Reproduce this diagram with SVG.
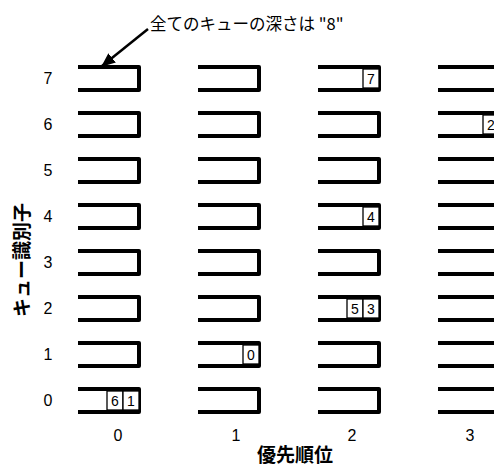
<svg xmlns="http://www.w3.org/2000/svg" width="494" height="466" viewBox="0 0 494 466">
<defs>
<style>
.q{fill:none;stroke:#000;stroke-width:4;stroke-linejoin:round}
.c{fill:#fff;stroke:#000;stroke-width:1.3}
.n{font-family:"Liberation Sans",Arial,sans-serif;font-size:14px;text-anchor:middle;fill:#000}
.lab{font-family:"Liberation Sans",Arial,sans-serif;font-size:16px;text-anchor:middle;fill:#000}
.t{font-family:"Noto Sans CJK JP","Noto Sans",sans-serif;font-weight:bold;font-size:19px;fill:#000;text-anchor:middle}
.note{font-family:"Noto Sans CJK JP","Noto Sans",sans-serif;font-size:16.5px;fill:#000}
</style>
<marker id="ah" markerWidth="14" markerHeight="12" refX="13" refY="6" orient="auto" markerUnits="userSpaceOnUse" viewBox="0 0 14 12">
<path d="M0,0 L14,6 L0,12 z" fill="#000"/>
</marker>
<path id="box" class="q" d="M0,0 H61 V23 H0"/>
</defs>
<g id="queues">
<g id="col0">
<use href="#box" x="78" y="67"/><use href="#box" x="78" y="113"/><use href="#box" x="78" y="159"/><use href="#box" x="78" y="205"/>
<use href="#box" x="78" y="251"/><use href="#box" x="78" y="297"/><use href="#box" x="78" y="343"/><use href="#box" x="78" y="389"/>
</g>
<g id="col1">
<use href="#box" x="198" y="67"/><use href="#box" x="198" y="113"/><use href="#box" x="198" y="159"/><use href="#box" x="198" y="205"/>
<use href="#box" x="198" y="251"/><use href="#box" x="198" y="297"/><use href="#box" x="198" y="343"/><use href="#box" x="198" y="389"/>
</g>
<g id="col2">
<use href="#box" x="318" y="67"/><use href="#box" x="318" y="113"/><use href="#box" x="318" y="159"/><use href="#box" x="318" y="205"/>
<use href="#box" x="318" y="251"/><use href="#box" x="318" y="297"/><use href="#box" x="318" y="343"/><use href="#box" x="318" y="389"/>
</g>
<g id="col3">
<use href="#box" x="438" y="67"/><use href="#box" x="438" y="113"/><use href="#box" x="438" y="159"/><use href="#box" x="438" y="205"/>
<use href="#box" x="438" y="251"/><use href="#box" x="438" y="297"/><use href="#box" x="438" y="343"/><use href="#box" x="438" y="389"/>
</g>
</g>
<g id="entries">
<g id="e-c2r7"><rect class="c" x="363" y="69" width="16" height="19"/><text class="n" x="371" y="84">7</text></g>
<g id="e-c3r6"><rect class="c" x="483" y="115" width="16" height="19"/><text class="n" x="491" y="130">2</text></g>
<g id="e-c2r4"><rect class="c" x="363" y="207" width="16" height="19"/><text class="n" x="371" y="222">4</text></g>
<g id="e-c2r2"><rect class="c" x="347" y="299" width="16" height="19"/><text class="n" x="355" y="314">5</text><rect class="c" x="363" y="299" width="16" height="19"/><text class="n" x="371" y="314">3</text></g>
<g id="e-c1r1"><rect class="c" x="243" y="345" width="16" height="19"/><text class="n" x="251" y="360">0</text></g>
<g id="e-c0r0"><rect class="c" x="107" y="391" width="16" height="19"/><text class="n" x="115" y="406">6</text><rect class="c" x="123" y="391" width="16" height="19"/><text class="n" x="131" y="406">1</text></g>
</g>
<g id="row-labels">
<text class="lab" x="48" y="84">7</text><text class="lab" x="48" y="130">6</text><text class="lab" x="48" y="176">5</text><text class="lab" x="48" y="222">4</text>
<text class="lab" x="48" y="268">3</text><text class="lab" x="48" y="314">2</text><text class="lab" x="48" y="360">1</text><text class="lab" x="48" y="406">0</text>
</g>
<g id="col-labels">
<text class="lab" x="118" y="441">0</text><text class="lab" x="236" y="441">1</text><text class="lab" x="352" y="441">2</text><text class="lab" x="470" y="441">3</text>
</g>
<g id="axis-titles">
<text class="t" x="295" y="462">優先順位</text>
<text class="t" transform="translate(29,260) rotate(-90)" x="0" y="0">キュー識別子</text>
</g>
<g id="connectors">
<line x1="148" y1="29" x2="102" y2="66" stroke="#000" stroke-width="2.5" marker-end="url(#ah)"/>
</g>
<g id="note">
<text class="note" x="150" y="30">全てのキューの深さは "8"</text>
</g>
</svg>
